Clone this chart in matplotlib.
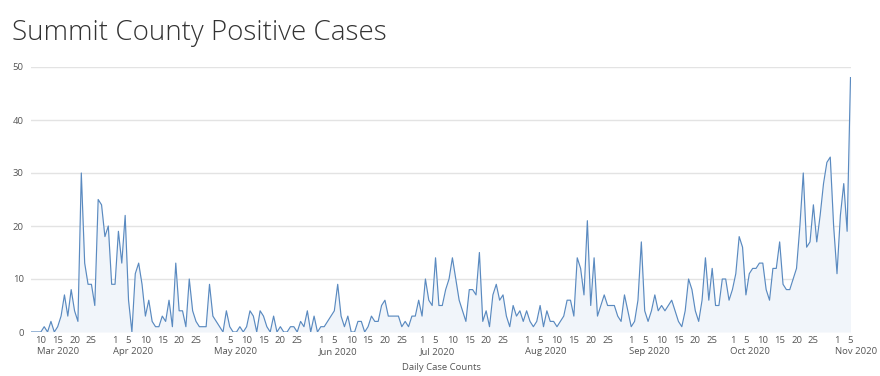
import matplotlib
matplotlib.use("Agg")
import matplotlib.pyplot as plt
import matplotlib.dates as mdates
import matplotlib.transforms as mtransforms
import pandas as pd
import numpy as np

# daily positive cases, Mar 7 2020 -> Nov 5 2020
mar = [0, 0, 0, 0, 1, 0, 2, 0, 1, 3, 7, 3, 8, 4, 2, 30, 13, 9, 9, 5, 25, 24, 18, 20, 9]
apr = [9, 19, 13, 22, 6, 0, 11, 13, 9, 3, 6, 2, 1, 1, 3, 2, 6, 1, 13, 4, 4, 1, 10, 4, 2, 1, 1, 1, 9, 3]
may = [2, 1, 0, 4, 1, 0, 0, 1, 0, 1, 4, 3, 0, 4, 3, 1, 0, 3, 0, 1, 0, 0, 1, 1, 0, 2, 1, 4, 0, 3, 0]
jun = [1, 1, 2, 3, 4, 9, 3, 1, 3, 0, 0, 2, 2, 0, 1, 3, 2, 2, 5, 6, 3, 3, 3, 3, 1, 2, 1, 3, 3, 6]
jul = [3, 10, 6, 5, 14, 5, 5, 8, 10, 14, 10, 6, 4, 2, 8, 8, 7, 15, 2, 4, 1, 7, 9, 6, 7, 3, 1, 5, 3, 4, 2]
aug = [4, 2, 1, 2, 5, 1, 4, 2, 2, 1, 2, 3, 6, 6, 3, 14, 12, 7, 21, 5, 14, 3, 5, 7, 5, 5, 5, 3, 2, 7, 4]
sep = [1, 2, 6, 17, 4, 2, 4, 7, 4, 5, 4, 5, 6, 4, 2, 1, 4, 10, 8, 4, 2, 6, 14, 6, 12, 5, 5, 10, 10, 6]
oct_ = [8, 11, 18, 16, 7, 11, 12, 12, 13, 13, 8, 6, 12, 12, 17, 9, 8, 8, 10, 12, 20, 30, 16, 17, 24, 17, 22, 28, 32, 33, 20]
nov = [11, 22, 28, 19, 48]

cases = mar + apr + may + jun + jul + aug + sep + oct_ + nov
dates = pd.date_range("2020-03-07", periods=len(cases), freq="D")

month_starts = ["2020-03", "2020-04", "2020-05", "2020-06", "2020-07",
                "2020-08", "2020-09", "2020-10", "2020-11"]
month_names = ["Mar 2020", "Apr 2020", "May 2020", "Jun 2020", "Jul 2020",
               "Aug 2020", "Sep 2020", "Oct 2020", "Nov 2020"]
tick_days = [1, 5, 10, 15, 20, 25]

plt.rcParams["font.family"] = ["Open Sans", "DejaVu Sans"]

fig = plt.figure(figsize=(8.8, 3.76), dpi=100)
ax = fig.add_axes([30.7 / 880, 1 - 332 / 376, (850.5 - 30.7) / 880, (332 - 67) / 376])

x = mdates.date2num(dates)
y = np.array(cases)
ax.fill_between(x, y, 0, color="#f1f5fa", lw=0)
ax.plot(x, y, color="#5a8ac0", lw=0.85)

ax.set_xlim(x[0], x[-1])
ax.set_ylim(0, 50)
ax.set_yticks([0, 10, 20, 30, 40, 50])
ax.grid(axis="y", color="#e3e3e3", lw=1)
ax.set_axisbelow(True)
for s in ax.spines.values():
    s.set_visible(False)

# day ticks
ticks, labels = [], []
for ms in month_starts:
    for d in tick_days:
        t = pd.Timestamp(f"{ms}-{d:02d}")
        if dates[0] <= t <= dates[-1]:
            ticks.append(mdates.date2num(t))
            labels.append(str(d))
ax.set_xticks(ticks)
ax.set_xticklabels(labels)
ax.tick_params(axis="x", length=0, pad=3, labelsize=6.8, labelcolor="#555555")
ax.tick_params(axis="y", length=0, pad=5, labelsize=6.8, labelcolor="#555555")

# month labels under first tick of each month
trans = mtransforms.blended_transform_factory(ax.transData, fig.transFigure)
for ms, name in zip(month_starts, month_names):
    first = [t for t in ticks if mdates.num2date(t).strftime("%Y-%m") == ms][0]
    off = 1.2 if mdates.num2date(first).day >= 10 else 0.6
    ax.text(first - off, 1 - 352 / 376, name, transform=trans, ha="left", va="center",
            fontsize=6.8, color="#555555")

fig.text(441 / 880, 1 - 367 / 376, "Daily Case Counts", ha="center", va="center",
         fontsize=6.8, color="#555555")
fig.text(12 / 880, 1 - 33 / 376, "Summit County Positive Cases", ha="left", va="center",
         fontsize=20, color="#333333", fontweight="light")

fig.savefig("out.png", dpi=100)
